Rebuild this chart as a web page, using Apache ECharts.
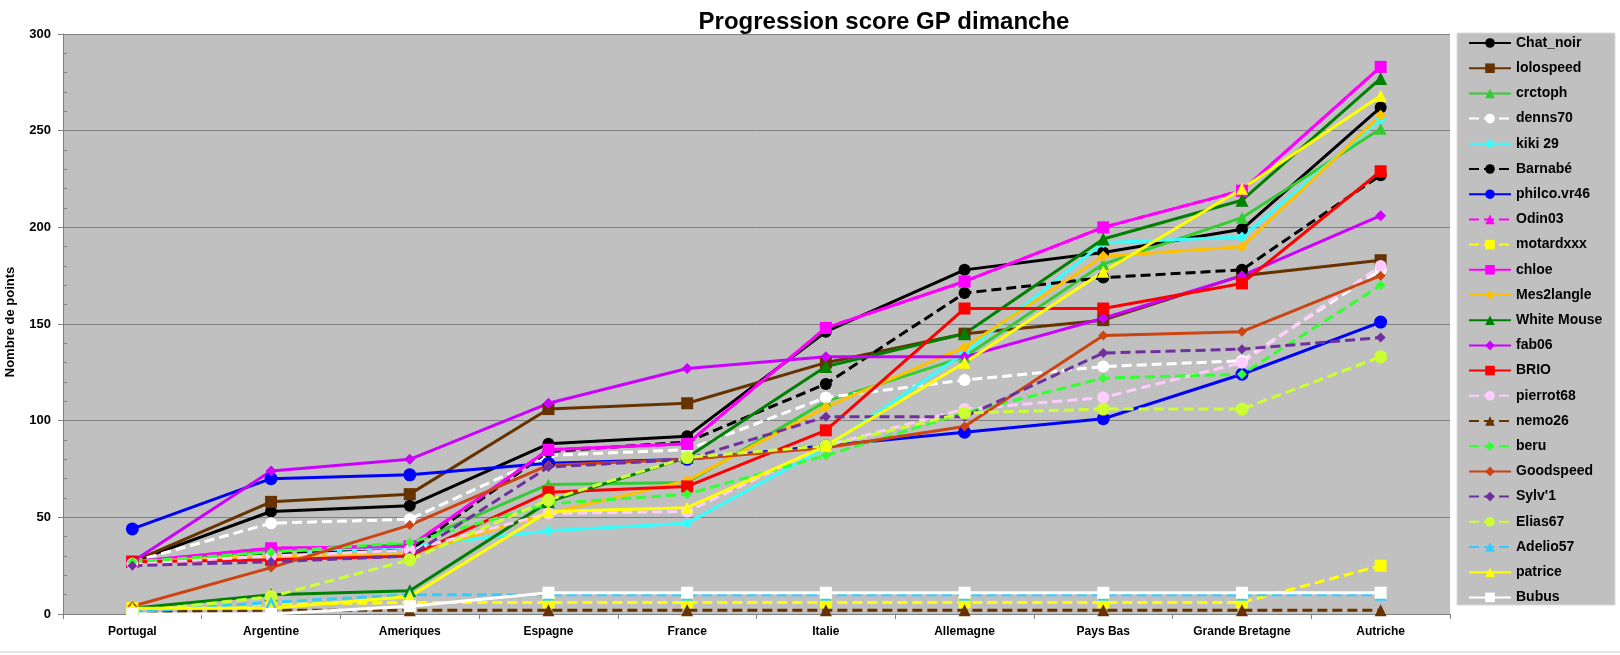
<!DOCTYPE html>
<html>
<head>
<meta charset="utf-8">
<script src="https://cdn.jsdelivr.net/npm/echarts@6/dist/echarts.min.js"></script>
<style>
html,body{margin:0;padding:0;background:#fff;}
#chart{width:1620px;height:655px;}
</style>
</head>
<body>
<div id="chart"></div>
<script>
const categories = ['Portugal','Argentine','Ameriques','Espagne','France','Italie','Allemagne','Pays Bas','Grande Bretagne','Autriche'];
const yTicks = [0, 50, 100, 150, 200, 250, 300];

const chatNoir   = [27, 53, 56, 88, 92, 146, 178, 187, 199, 262];
const lolospeed  = [27, 58, 62, 106, 109, 130, 145, 152, 175, 183];
const crctoph    = [27, 33, 36, 67, 68, 110, 133, 181, 205, 251];
const denns70    = [27, 47, 49, 82, 85, 112, 121, 128, 131, 178];
const kiki29     = [27, 30, 35, 43, 47, 86, 135, 192, 195, 256];
const barnabe    = [27, 31, 33, 84, 89, 119, 166, 174, 178, 227];
const philco     = [44, 70, 72, 78, 80, 87, 94, 101, 124, 151];
const odin03     = [27, 34, 35, 85, 88, 148, 172, 200, 219, 283];
const motardxxx  = [3, 5, 6, 6, 6, 6, 6, 6, 6, 25];
const chloe      = [27, 34, 35, 85, 88, 148, 172, 200, 219, 283];
const mes2langle = [27, 30, 31, 52, 69, 107, 138, 185, 190, 258];
const whiteMouse = [3, 10, 12, 58, 81, 128, 145, 194, 214, 277];
const fab06      = [27, 74, 80, 109, 127, 133, 133, 153, 175, 206];
const brio       = [27, 28, 30, 63, 66, 95, 158, 158, 171, 229];
const pierrot68  = [26, 30, 33, 52, 53, 87, 106, 112, 130, 180];
const nemo26     = [1, 2, 2, 2, 2, 2, 2, 2, 2, 2];
const beru       = [27, 32, 37, 57, 62, 82, 104, 122, 124, 170];
const goodspeed  = [4, 24, 46, 77, 80, 86, 97, 144, 146, 175];
const sylv1      = [25, 27, 30, 76, 80, 102, 102, 135, 137, 143];
const elias67    = [1, 9, 28, 59, 81, 87, 104, 106, 106, 133];
const adelio57   = [1, 6, 10, 10, 10, 10, 10, 10, 10, 10];
const patrice    = [3, 3, 9, 53, 55, 87, 130, 177, 220, 268];
const bubus      = [0, 0, 4, 11, 11, 11, 11, 11, 11, 11];

const seriesDefs = [
  ['Chat_noir', chatNoir, '#000000', false, 'circle', 12],
  ['lolospeed', lolospeed, '#663300', false, 'rect', 12],
  ['crctoph', crctoph, '#33CC33', false, 'triangle', 12],
  ['denns70', denns70, '#FFFFFF', true, 'circle', 12],
  ['kiki 29', kiki29, '#33FFFF', false, 'diamond', 11],
  ['Barnabé', barnabe, '#000000', true, 'circle', 12],
  ['philco.vr46', philco, '#0000FF', false, 'circle', 13],
  ['Odin03', odin03, '#FF00FF', true, 'triangle', 12],
  ['motardxxx', motardxxx, '#FFFF00', true, 'rect', 12],
  ['chloe', chloe, '#FF00FF', false, 'rect', 12],
  ['Mes2langle', mes2langle, '#FFC000', false, 'diamond', 11],
  ['White Mouse', whiteMouse, '#008000', false, 'triangle', 13],
  ['fab06', fab06, '#CC00FF', false, 'diamond', 11],
  ['BRIO', brio, '#FF0000', false, 'rect', 12],
  ['pierrot68', pierrot68, '#FFCCFF', true, 'circle', 12],
  ['nemo26', nemo26, '#663300', true, 'triangle', 12],
  ['beru', beru, '#33FF33', true, 'diamond', 10],
  ['Goodspeed', goodspeed, '#CC4411', false, 'diamond', 10],
  ["Sylv'1", sylv1, '#7030A0', true, 'diamond', 10],
  ['Elias67', elias67, '#CCFF33', true, 'circle', 13],
  ['Adelio57', adelio57, '#33CCFF', true, 'triangle', 12],
  ['patrice', patrice, '#FFFF00', false, 'triangle', 12],
  ['Bubus', bubus, '#FFFFFF', false, 'rect', 12]
];

const FONT = '"Liberation Sans", Arial, sans-serif';

const series = seriesDefs.map(d => ({
  name: d[0],
  type: 'line',
  data: d[1],
  symbol: d[4],
  symbolSize: d[5],
  showSymbol: true,
  color: d[2],
  lineStyle: { color: d[2], width: 3, type: d[3] ? [10, 5] : 'solid' },
  itemStyle: { color: d[2], borderWidth: 0 },
  emphasis: { disabled: true },
  animation: false
}));

const chart = echarts.init(document.getElementById('chart'), null, { renderer: 'canvas' });
chart.setOption({
  animation: false,
  backgroundColor: '#ffffff',
  title: {
    text: 'Progression score GP dimanche',
    left: 879, top: 5, textAlign: 'center',
    textStyle: { fontFamily: FONT, fontWeight: 'bold', fontSize: 24, color: '#000' }
  },
  grid: {
    left: 63, right: 170, top: 34, bottom: 41,
    show: true, backgroundColor: '#C0C0C0', borderWidth: 0
  },
  graphic: [
    { type: 'rect', shape: { x: 1457, y: 33, width: 158, height: 572 },
      style: { fill: '#C0C0C0', stroke: '#D9D9D9', lineWidth: 1 }, z: -1 },
    { type: 'text', x: 10, y: 322, rotation: Math.PI / 2,
      style: { text: 'Nombre de points', font: 'bold 13px ' + FONT, fill: '#000',
               align: 'center', verticalAlign: 'middle' } },
    { type: 'line', shape: { x1: 0, y1: 652, x2: 1620, y2: 652 },
      style: { stroke: '#C8C8C8', lineWidth: 1 } }
  ],
  legend: {
    orient: 'vertical',
    left: 1468, top: 36,
    itemWidth: 42, itemHeight: 12, itemGap: 11.2,
    padding: 0,
    textStyle: { fontFamily: FONT, fontWeight: 'bold', fontSize: 14, color: '#000', lineHeight: 14 },
    data: seriesDefs.map(d => d[0])
  },
  xAxis: {
    type: 'category',
    data: categories,
    boundaryGap: true,
    axisLine: { show: true, lineStyle: { color: '#808080', width: 1 } },
    axisTick: { show: true, alignWithLabel: false, length: 5, lineStyle: { color: '#808080' } },
    axisLabel: { fontFamily: FONT, fontWeight: 'bold', fontSize: 12, color: '#000', margin: 12, interval: 0 },
    splitLine: { show: false }
  },
  yAxis: [{
    type: 'value',
    min: yTicks[0], max: yTicks[yTicks.length - 1], interval: 50,
    axisLine: { show: true, lineStyle: { color: '#808080', width: 1 } },
    axisTick: { show: true, length: 5, lineStyle: { color: '#808080' } },
    axisLabel: { fontFamily: FONT, fontWeight: 'bold', fontSize: 13, color: '#000', margin: 12 },
    splitLine: { show: true, lineStyle: { color: '#808080', width: 1 } }
  }, {
    type: 'value', position: 'left',
    min: yTicks[0], max: yTicks[yTicks.length - 1], interval: 10,
    axisLine: { show: false },
    axisTick: { show: true, inside: true, length: 4, lineStyle: { color: '#808080' } },
    axisLabel: { show: false },
    splitLine: { show: false }
  }],
  series: series
});
</script>
</body>
</html>
